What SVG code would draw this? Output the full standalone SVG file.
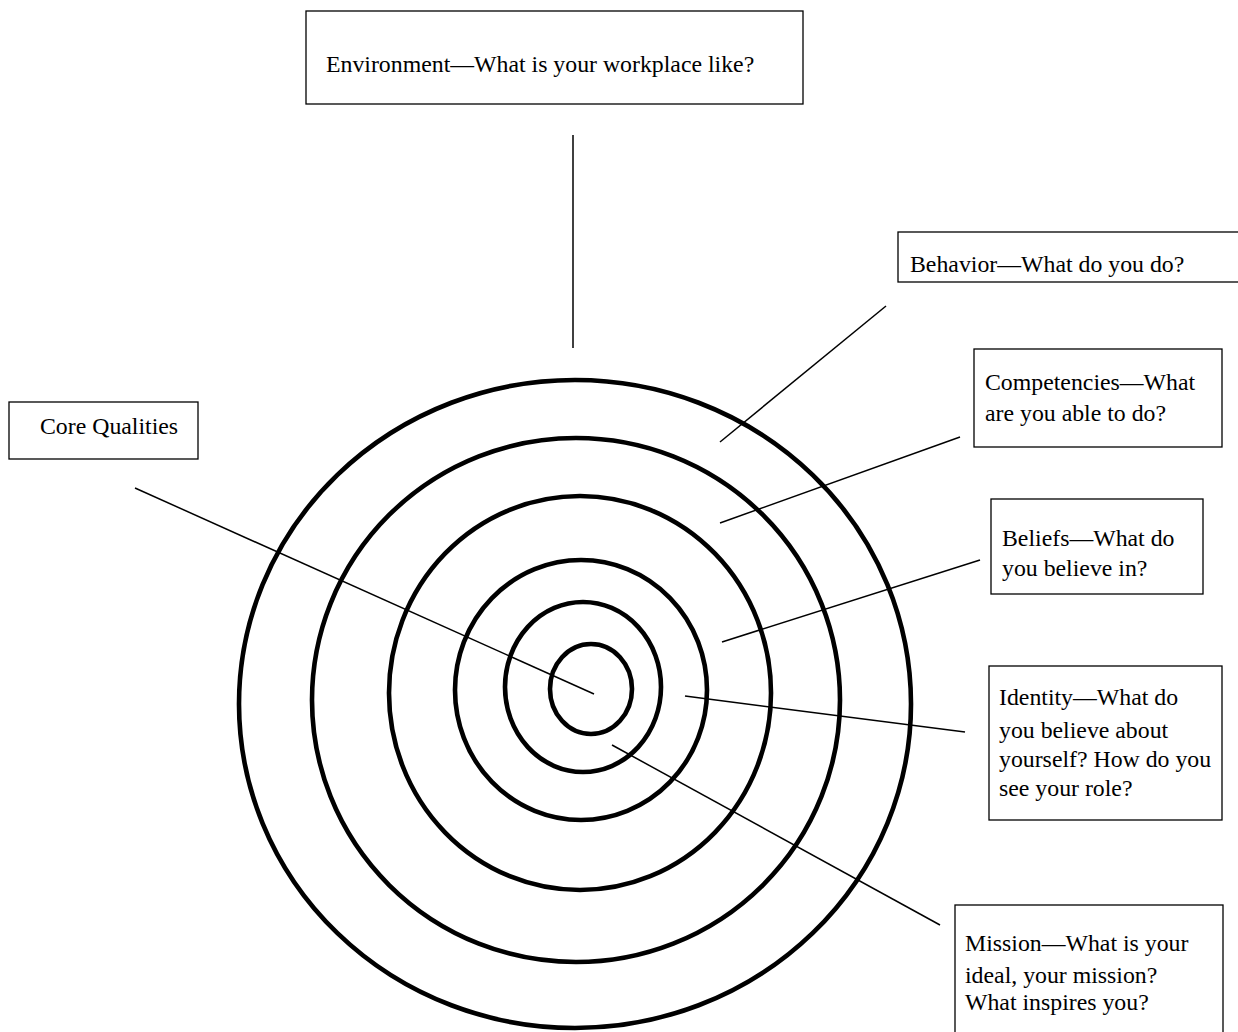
<svg xmlns="http://www.w3.org/2000/svg" width="1238" height="1032" viewBox="0 0 1238 1032">
<style>
.box{fill:#fff;stroke:#000;stroke-width:1.3}
.t{font-family:"Liberation Serif","Times New Roman",serif;font-size:23.8px;fill:#000}
.ring{fill:none;stroke:#000;stroke-width:4.6}
.ln{stroke:#000;stroke-width:1.5;fill:none}
</style>
<rect width="1238" height="1032" fill="#fff"/>
<g id="rings">
<ellipse class="ring" cx="575" cy="704" rx="336" ry="324"/>
<ellipse class="ring" cx="576" cy="700" rx="264" ry="262"/>
<ellipse class="ring" cx="580" cy="693" rx="191" ry="197"/>
<ellipse class="ring" cx="581" cy="690" rx="126" ry="130"/>
<ellipse class="ring" cx="583" cy="687" rx="78" ry="85"/>
<ellipse class="ring" cx="591" cy="689" rx="41" ry="45"/>
</g>
<g id="connectors">
<line class="ln" x1="573" y1="135" x2="573" y2="348"/>
<line class="ln" x1="886" y1="306" x2="720" y2="442"/>
<line class="ln" x1="960" y1="437" x2="720" y2="523"/>
<line class="ln" x1="980" y1="560" x2="722" y2="642"/>
<line class="ln" x1="685" y1="696" x2="965" y2="732"/>
<line class="ln" x1="612" y1="745" x2="940" y2="925"/>
<line class="ln" x1="135" y1="488" x2="594" y2="694"/>
</g>
<g id="environment">
<rect class="box" x="306" y="11" width="497" height="93"/>
<text class="t" x="326" y="72">Environment—What is your workplace like?</text>
</g>
<g id="behavior">
<rect class="box" x="898" y="232" width="345" height="50"/>
<text class="t" x="910" y="272">Behavior—What do you do?</text>
</g>
<g id="competencies">
<rect class="box" x="974" y="349" width="248" height="98"/>
<text class="t" x="985" y="390">Competencies—What</text>
<text class="t" x="985" y="421">are you able to do?</text>
</g>
<g id="beliefs">
<rect class="box" x="991" y="499" width="212" height="95"/>
<text class="t" x="1002" y="546">Beliefs—What do</text>
<text class="t" x="1002" y="576">you believe in?</text>
</g>
<g id="identity">
<rect class="box" x="989" y="666" width="233" height="154"/>
<text class="t" x="999" y="705">Identity—What do</text>
<text class="t" x="999" y="738">you believe about</text>
<text class="t" x="999" y="767">yourself? How do you</text>
<text class="t" x="999" y="796">see your role?</text>
</g>
<g id="mission">
<rect class="box" x="955" y="905" width="268" height="140"/>
<text class="t" x="965" y="951">Mission—What is your</text>
<text class="t" x="965" y="983">ideal, your mission?</text>
<text class="t" x="965" y="1010">What inspires you?</text>
</g>
<g id="core-qualities">
<rect class="box" x="9" y="402" width="189" height="57"/>
<text class="t" x="40" y="434">Core Qualities</text>
</g>
</svg>
